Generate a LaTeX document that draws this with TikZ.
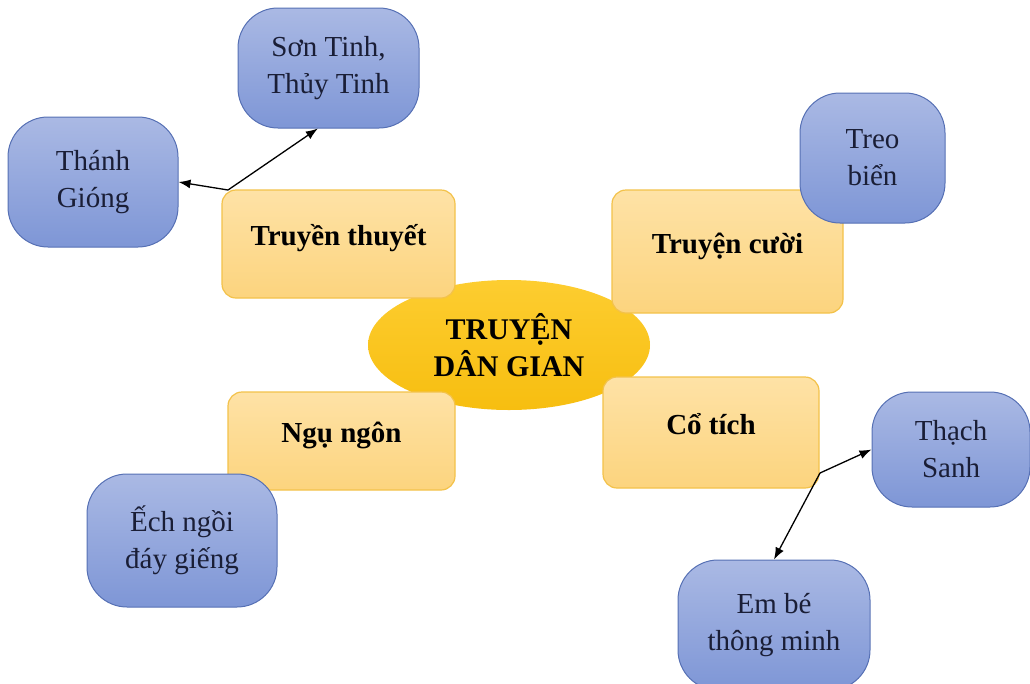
\documentclass[tikz,border=0pt]{standalone}
\usepackage{fontspec}
\setmainfont{Liberation Serif}
\usepackage{xcolor}
\usepackage{tikz}
\usetikzlibrary{shapes.geometric,arrows.meta}

\definecolor{goldfill}{HTML}{F7BE10}
\definecolor{goldtop}{HTML}{FDCD30}
\definecolor{topictop}{HTML}{FEE2A6}
\definecolor{topicbot}{HTML}{FCD47E}
\definecolor{topicline}{HTML}{F3C24A}
\definecolor{storytop}{HTML}{AAB9E4}
\definecolor{storybot}{HTML}{7E96D6}
\definecolor{storyline}{HTML}{5670B4}
\definecolor{storytext}{HTML}{1A1E36}

\tikzset{
  core/.style={ellipse, top color=goldtop, bottom color=goldfill, inner sep=0pt,
    minimum width=282pt, minimum height=130pt, align=center,
    font=\bfseries\fontsize{30}{37}\selectfont},
  topic/.style={draw=topicline, line width=1.2pt, rounded corners=14pt,
    top color=topictop, bottom color=topicbot, align=center,
    text height=20pt, text depth=17pt,
    font=\bfseries\fontsize{29}{36}\selectfont},
  story/.style={draw=storyline, line width=1pt, rounded corners=40pt,
    top color=storytop, bottom color=storybot, align=center, text=storytext,
    font=\fontsize{29}{37}\selectfont}
}

\begin{document}
\begin{tikzpicture}[x=1pt,y=-1pt,>={Latex[length=12pt,width=9pt]}]
    	\useasboundingbox (0,0) rectangle (1030,683);
    	\clip (0,0) rectangle (1030,683);
    	\node (0) [core] at (509,345) {TRUYỆN\\DÂN GIAN};
    	\node (1) [topic, minimum width=233pt, minimum height=108pt] at (338.5,244) {Truyền thuyết};
    	\node (2) [topic, minimum width=231pt, minimum height=123pt] at (727.5,251.5) {Truyện cười};
    	\node (3) [topic, minimum width=227pt, minimum height=98pt] at (341.5,441) {Ngụ ngôn};
    	\node (4) [topic, minimum width=216pt, minimum height=111pt] at (711,432.5) {Cổ tích};
    	\node (5) [story, minimum width=181pt, minimum height=120pt] at (328.5,68) {Sơn Tinh,\\Thủy Tinh};
    	\node (6) [story, minimum width=170pt, minimum height=130pt] at (93,182) {Thánh\\Gióng};
    	\node (7) [story, minimum width=145pt, minimum height=130pt] at (872.5,158) {Treo\\biển};
    	\node (8) [story, minimum width=190pt, minimum height=133pt] at (182,540.5) {Ếch ngồi\\đáy giếng};
    	\node (9) [story, minimum width=158pt, minimum height=115pt] at (951,449.5) {Thạch\\Sanh};
    	\node (10) [story, minimum width=192pt, minimum height=130pt] at (774,625) {Em bé\\thông minh};
    	\coordinate (j1) at (228,190);
    	\coordinate (j2) at (820,473);
    	\path[->, line width=1.3pt]
    	(j1) edge (6.east)
    	(j1) edge (5.260)
    	(j2) edge (9.west)
    	(j2) edge (10.north);
    \end{tikzpicture}
\end{document}
